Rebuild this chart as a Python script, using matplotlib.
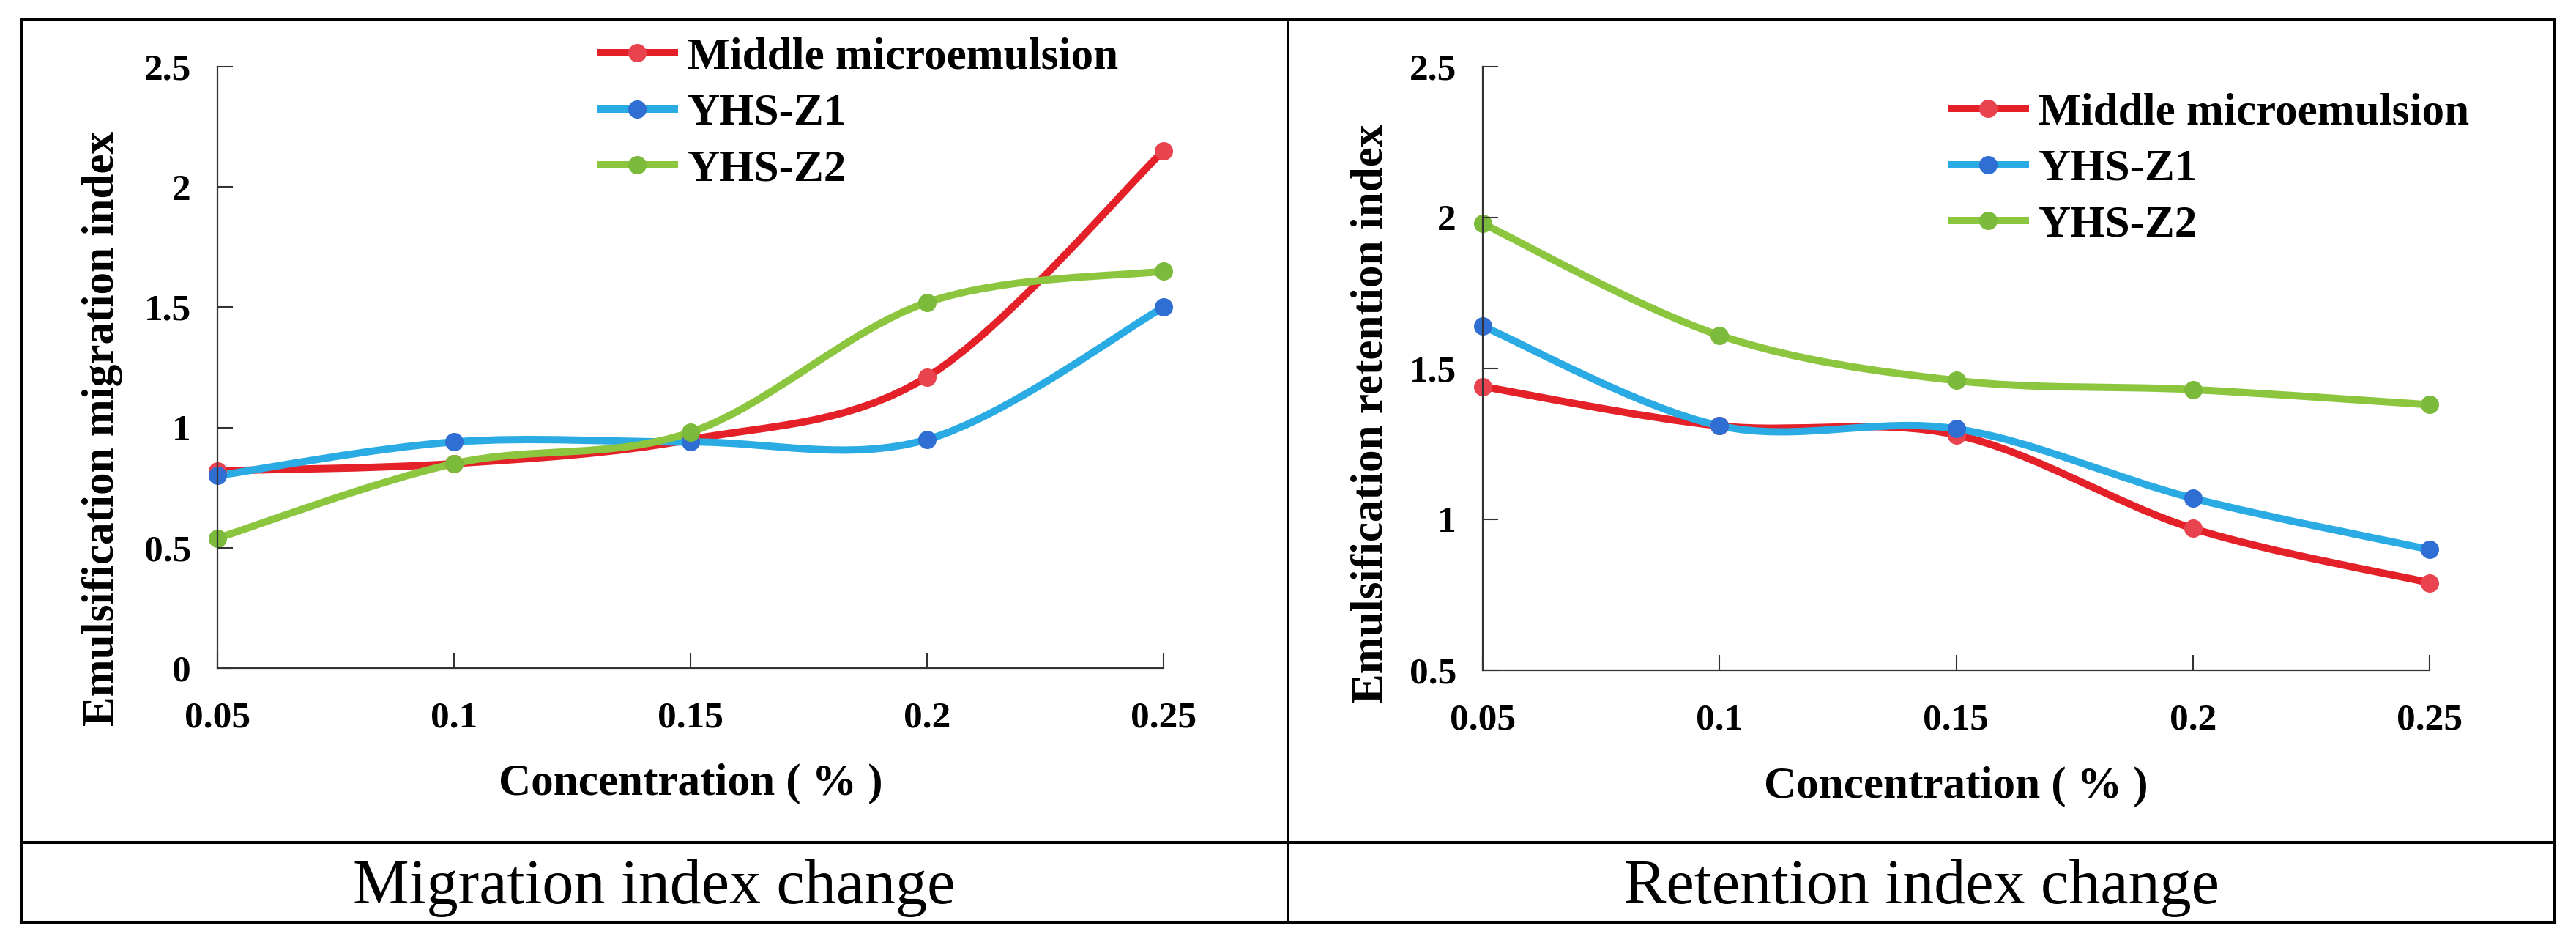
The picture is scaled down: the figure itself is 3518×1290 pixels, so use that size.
import matplotlib
matplotlib.use("Agg")
import matplotlib.pyplot as plt
from matplotlib.path import Path
from matplotlib.patches import PathPatch
from matplotlib.lines import Line2D

# data
conc = [0.05, 0.1, 0.15, 0.2, 0.25]
conc_labels = ["0.05", "0.1", "0.15", "0.2", "0.25"]
series_names = ["Middle microemulsion", "YHS-Z1", "YHS-Z2"]

migration_middle = [0.82, 0.85, 0.95, 1.21, 2.15]
migration_z1 = [0.80, 0.94, 0.94, 0.95, 1.50]
migration_z2 = [0.54, 0.85, 0.98, 1.52, 1.65]

retention_middle = [1.44, 1.31, 1.28, 0.97, 0.79]
retention_z1 = [1.64, 1.31, 1.30, 1.07, 0.90]
retention_z2 = [1.98, 1.61, 1.46, 1.43, 1.38]

migration_ticks = [0, 0.5, 1, 1.5, 2, 2.5]
migration_tick_labels = ["0", "0.5", "1", "1.5", "2", "2.5"]
retention_ticks = [0.5, 1, 1.5, 2, 2.5]
retention_tick_labels = ["0.5", "1", "1.5", "2", "2.5"]

captions = ["Migration index change", "Retention index change"]

line_colors = ["#E42128", "#2AABE3", "#8CC63F"]
marker_colors = ["#E8434F", "#2F6ED2", "#7BBA3A"]

W, H = 3518, 1290
SERIF = "Liberation Serif"
LW = 7.2
MS = 17


def smooth_path(x, y):
    # excel-like smoothed line: cubic bezier through the points
    n = len(x)
    verts = [(x[0], y[0])]
    codes = [Path.MOVETO]
    for i in range(n - 1):
        xp, yp = (x[i - 1], y[i - 1]) if i > 0 else (x[i], y[i])
        xn, yn = (x[i + 2], y[i + 2]) if i + 2 < n else (x[i + 1], y[i + 1])
        c1 = (x[i] + (x[i + 1] - xp) / 6, y[i] + (y[i + 1] - yp) / 6)
        c2 = (x[i + 1] - (xn - x[i]) / 6, y[i + 1] - (yn - y[i]) / 6)
        verts += [c1, c2, (x[i + 1], y[i + 1])]
        codes += [Path.CURVE4] * 3
    return Path(verts, codes)


def fx(px):
    return px / W


def fy(py):
    return 1 - py / H


fig = plt.figure(figsize=(W / 100, H / 100), dpi=100)

panels = [
    dict(rect=[fx(297), fy(912), fx(1589) - fx(297), fy(91) - fy(912)],
         values=[migration_middle, migration_z1, migration_z2],
         ylim=(0, 2.5), ticks=migration_ticks, tick_labels=migration_tick_labels,
         ylabel="Emulsification migration index",
         ylabel_pos=(-0.1215, 0.398),
         legend_pos=(fx(820), fy(155))),
    dict(rect=[fx(2025), fy(915), fx(3318) - fx(2025), fy(91) - fy(915)],
         values=[retention_middle, retention_z1, retention_z2],
         ylim=(0.5, 2.5), ticks=retention_ticks, tick_labels=retention_tick_labels,
         ylabel="Emulsification retention index",
         ylabel_pos=(-0.1183, 0.425),
         legend_pos=(fx(2665), fy(231))),
]

for p in panels:
    ax = fig.add_axes(p["rect"])
    handles = []
    for vals, lc, mc, name in zip(p["values"], line_colors, marker_colors, series_names):
        patch = PathPatch(smooth_path(conc, vals), facecolor="none", edgecolor=lc,
                          lw=LW, capstyle="round", joinstyle="round", clip_on=False)
        ax.add_patch(patch)
        ax.plot(conc, vals, linestyle="none", marker="o", markersize=MS,
                markerfacecolor=mc, markeredgecolor=mc, clip_on=False,
                zorder=patch.get_zorder() + 0.1)
        handles.append(Line2D([], [], color=lc, lw=LW, marker="o", markersize=MS,
                              markerfacecolor=mc, markeredgecolor=mc))

    ax.set_xlim(0.05, 0.25)
    ax.set_ylim(*p["ylim"])
    ax.set_xticks(conc)
    ax.set_xticklabels(conc_labels)
    ax.set_yticks(p["ticks"])
    ax.set_yticklabels(p["tick_labels"])
    for s in ["top", "right"]:
        ax.spines[s].set_visible(False)
    for s in ["left", "bottom"]:
        ax.spines[s].set_linewidth(1.6)
        ax.spines[s].set_color("#333333")
    ax.tick_params(axis="both", direction="in", length=15, width=1.5, color="#333333")
    ax.tick_params(axis="x", pad=33)
    ax.tick_params(axis="y", pad=26)
    for lab in ax.get_xticklabels() + ax.get_yticklabels():
        lab.set_fontfamily(SERIF)
        lab.set_fontweight("bold")
        lab.set_fontsize(37)

    ax.set_xlabel("Concentration ( % )", fontfamily=SERIF, fontweight="bold",
                  fontsize=44, va="center")
    ax.xaxis.set_label_coords(0.5, -0.1925)
    ax.set_ylabel(p["ylabel"], fontfamily=SERIF, fontweight="bold", fontsize=44,
                  va="center", ha="center")
    ax.yaxis.set_label_coords(*p["ylabel_pos"])

    ax.legend(handles, series_names, loc="center left", bbox_to_anchor=p["legend_pos"],
              bbox_transform=fig.transFigure, frameon=False, borderpad=0,
              borderaxespad=0, handlelength=1.65, handletextpad=0.3, labelspacing=0.34,
              prop={"family": SERIF, "weight": "bold", "size": 44})

# table frame around the two panels
frame_lw = 2.9
frame_lines = [
    ((29, 3489), (27, 27)),
    ((29, 3489), (1150, 1150)),
    ((29, 3489), (1259, 1259)),
    ((29, 29), (27, 1259)),
    ((1759, 1759), (27, 1259)),
    ((3489, 3489), (27, 1259)),
]
for xs, ys in frame_lines:
    fig.add_artist(Line2D([fx(xs[0]), fx(xs[1])], [fy(ys[0]), fy(ys[1])],
                          transform=fig.transFigure, color="black", lw=frame_lw,
                          solid_capstyle="projecting"))

fig.text(fx(893), fy(1233), captions[0], ha="center", va="baseline",
         fontfamily=SERIF, fontsize=62)
fig.text(fx(2624), fy(1233), captions[1], ha="center", va="baseline",
         fontfamily=SERIF, fontsize=62)

fig.savefig("out.png", dpi=100, facecolor="white")
